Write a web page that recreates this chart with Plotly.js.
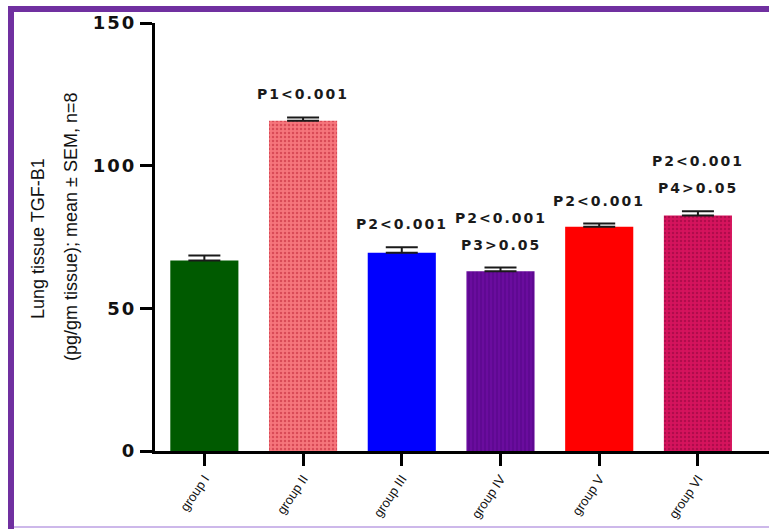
<!DOCTYPE html>
<html>
<head>
<meta charset="utf-8">
<script src="https://cdn.plot.ly/plotly-3.0.1.min.js"></script>
<style>
  html, body { margin: 0; padding: 0; background: #ffffff; }
  #wrap { position: relative; width: 769px; height: 529px; overflow: hidden; background: #fff; }
  #chart { position: absolute; left: 0; top: 0; width: 769px; height: 529px; }
  .frame-top { position: absolute; left: 8px; top: 6px; width: 761px; height: 6px; background: #7030a0; pointer-events: none; }
  .frame-left { position: absolute; left: 8px; top: 6px; width: 6px; height: 523px; background: #7030a0; pointer-events: none; }
  .frame-bottom { position: absolute; left: 14px; top: 526px; width: 755px; height: 2px; background: #cdb8ea; pointer-events: none; }
  .ytick text { letter-spacing: 2px; }
  .annotation:not([data-index="0"]):not([data-index="1"]) .annotation-text { letter-spacing: 2px; }
</style>
</head>
<body>
<div id="wrap">
  <div id="chart"></div>
  <div class="frame-top"></div>
  <div class="frame-left"></div>
  <div class="frame-bottom"></div>
</div>
<script>
// ---- data ----
const groups = ["group I", "group II", "group III", "group IV", "group V", "group VI"];
const meanValues = [66.8, 115.7, 69.5, 63.0, 78.6, 82.5];
const semValues = [1.7, 1.2, 1.9, 1.3, 1.1, 1.5];
const barColors = ["#005a00", "#f6767c", "#0000ff", "#6a0c9e", "#ff0000", "#d6135d"];
const patternShapes = ["", ".", "", "|", "", "."];
const patternColors = ["#005a00", "#d94b57", "#0000ff", "#57078a", "#ff0000", "#b00c4c"];
const labelLower = ["", "P1<0.001", "P2<0.001", "P3>0.05", "P2<0.001", "P4>0.05"];
const labelUpper = ["", "", "", "P2<0.001", "", "P2<0.001"];
const yTickVals = [0, 50, 100, 150];
const yTitleLine1 = "Lung tissue TGF-B1";
const yTitleLine2 = "(pg/gm tissue); mean \u00b1 SEM, n=8";

const traces = groups.map((g, i) => ({
  type: "bar",
  name: g,
  x: [g],
  y: [meanValues[i]],
  width: 0.69,
  marker: {
    color: barColors[i],
    line: { width: 0 },
    pattern: {
      shape: patternShapes[i],
      fillmode: "replace",
      bgcolor: barColors[i],
      fgcolor: patternColors[i],
      fgopacity: 1,
      size: 4,
      solidity: 0.3
    }
  },
  error_y: {
    type: "data",
    symmetric: false,
    array: [semValues[i]],
    arrayminus: [0],
    color: "#1a1a1a",
    thickness: 2,
    width: 16
  },
  hoverinfo: "x+y"
}));

const titleFont = { family: "Liberation Sans, Arial, sans-serif", size: 18, color: "#111" };
const annotations = [
  {
    xref: "paper", yref: "paper", x: 0, y: 0.5, xanchor: "center", yanchor: "middle",
    xshift: -117, yshift: -2, textangle: -90, showarrow: false, text: yTitleLine1, font: titleFont
  },
  {
    xref: "paper", yref: "paper", x: 0, y: 0.5, xanchor: "center", yanchor: "middle",
    xshift: -84, yshift: 10, textangle: -90, showarrow: false, text: yTitleLine2, font: titleFont
  }
];
const annFont = { family: "DejaVu Sans, sans-serif", size: 14, color: "#1a1a1a", weight: "bold" };
groups.forEach((g, i) => {
  const top = meanValues[i] + semValues[i];
  if (labelLower[i]) {
    annotations.push({ x: g, y: top, xref: "x", yref: "y", yanchor: "middle", yshift: 23,
      showarrow: false, text: labelLower[i], font: annFont });
  }
  if (labelUpper[i]) {
    annotations.push({ x: g, y: top, xref: "x", yref: "y", yanchor: "middle", yshift: 50,
      showarrow: false, text: labelUpper[i], font: annFont });
  }
});

const layout = {
  width: 769,
  height: 529,
  margin: { l: 155, r: 0, t: 23, b: 78, pad: 0 },
  paper_bgcolor: "#ffffff",
  plot_bgcolor: "#ffffff",
  showlegend: false,
  barmode: "overlay",
  xaxis: {
    type: "category",
    categoryorder: "array",
    categoryarray: groups,
    range: [-0.5, 5.72],
    showline: true, linecolor: "#000", linewidth: 3,
    ticks: "outside", ticklen: 12, tickwidth: 3, tickcolor: "#000",
    tickangle: -56,
    tickfont: { family: "Liberation Sans, Arial, sans-serif", size: 13, color: "#111" },
    showgrid: false, zeroline: false, automargin: false, fixedrange: true
  },
  yaxis: {
    range: [0, 150],
    tickvals: yTickVals,
    showline: true, linecolor: "#000", linewidth: 3,
    ticks: "outside", ticklen: 12, tickwidth: 3, tickcolor: "#000",
    ticklabelstandoff: 0,
    tickfont: { family: "DejaVu Sans, sans-serif", size: 18, color: "#111", weight: "bold" },
    showgrid: false, zeroline: false, automargin: false, fixedrange: true
  },
  annotations: annotations
};

Plotly.newPlot("chart", traces, layout, { displayModeBar: false, staticPlot: true });
</script>
</body>
</html>
